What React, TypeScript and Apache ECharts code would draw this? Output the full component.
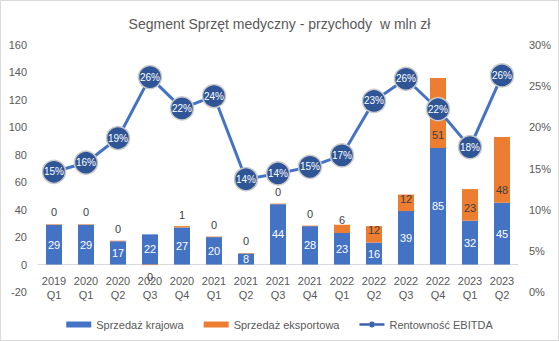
import React, { useEffect, useRef } from "react";
import * as echarts from "echarts";

const categories = [
  "2019\nQ1", "2020\nQ1", "2020\nQ2", "2020\nQ3", "2020\nQ4",
  "2021\nQ1", "2021\nQ2", "2021\nQ3", "2021\nQ4", "2022\nQ1",
  "2022\nQ2", "2022\nQ3", "2022\nQ4", "2023\nQ1", "2023\nQ2",
];
const domesticSales = [29, 29, 17, 22, 27, 20, 8, 44, 28, 23, 16, 39, 85, 32, 45];
const exportSales = [0.4, 0.4, 0.4, -0.4, 1, 0.4, 0.4, 0.4, 0.4, 6, 12, 12, 51, 23, 48];
const ebitdaMargin = [0.146, 0.157, 0.187, 0.261, 0.223, 0.238, 0.137, 0.144, 0.152, 0.166, 0.232, 0.259, 0.222, 0.176, 0.263];
const leftMin = -20;
const leftMax = 160;

const FONT = "'Liberation Sans', Arial, sans-serif";
const GREY = "#595959";
const GRID_TOP = 45;
const GRID_BOTTOM = 49;
const HEIGHT = 341;

const LINE_ICON =
  "path://M0,1.8 L9.6,1.8 L9.6,4.2 L0,4.2 Z M15.4,3 A2.9,2.9 0 1 1 9.6,3 A2.9,2.9 0 1 1 15.4,3 Z M15.4,1.8 L25,1.8 L25,4.2 L15.4,4.2 Z";

export default function App() {
  const ref = useRef<HTMLDivElement>(null);
  useEffect(() => {
    document.body.style.margin = "0";
    const chart = echarts.init(ref.current!, null, { renderer: "svg" });
    const plotH = HEIGHT - GRID_TOP - GRID_BOTTOM;
    const zeroOffset = -(plotH * (0 - leftMin)) / (leftMax - leftMin);
    chart.setOption({
      animation: false,
      backgroundColor: "#ffffff",
      textStyle: { fontFamily: FONT },
      title: {
        text: "Segment Sprzęt medyczny - przychody  w mln zł",
        left: "center",
        top: 12,
        textStyle: { fontSize: 14, fontWeight: "normal", color: GREY, fontFamily: FONT },
      },
      graphic: [
        {
          type: "rect",
          shape: { x: 0.5, y: 0.5, width: 558, height: 340 },
          style: { fill: "none", stroke: "#D9D9D9", lineWidth: 1 },
          silent: true,
        },
      ],
      legend: {
        left: "center",
        top: 314,
        itemWidth: 25,
        itemHeight: 6,
        itemGap: 20,
        textStyle: { fontSize: 11, color: GREY, fontFamily: FONT },
        data: [
          { name: "Sprzedaż krajowa", icon: "rect" },
          { name: "Sprzedaż eksportowa", icon: "rect" },
          { name: "Rentowność EBITDA", icon: LINE_ICON, itemStyle: { color: "#3A64B0", borderWidth: 0 } },
        ],
      },
      grid: { left: 38, right: 41, top: GRID_TOP, bottom: GRID_BOTTOM },
      xAxis: {
        type: "category",
        data: categories,
        offset: zeroOffset,
        axisLine: { onZero: false, lineStyle: { color: "#D9D9D9", width: 1 } },
        axisTick: { show: false },
        axisLabel: { interval: 0, color: GREY, fontSize: 11, lineHeight: 14, margin: 9 },
      },
      yAxis: [
        {
          type: "value",
          min: leftMin,
          max: leftMax,
          interval: 20,
          axisLine: { show: false },
          axisTick: { show: false },
          splitLine: { show: false },
          axisLabel: { color: GREY, fontSize: 11, margin: 11 },
        },
        {
          type: "value",
          min: 0,
          max: 0.3,
          interval: 0.05,
          axisLine: { show: false },
          axisTick: { show: false },
          splitLine: { show: false },
          axisLabel: {
            color: GREY,
            fontSize: 11,
            margin: 11,
            formatter: (v: number) => `${Math.round(v * 100)}%`,
          },
        },
      ],
      series: [
        {
          name: "Sprzedaż krajowa",
          type: "bar",
          stack: "sales",
          barWidth: "50%",
          data: domesticSales,
          itemStyle: { color: "#4472C4" },
          label: {
            show: true,
            position: "inside",
            color: "#ffffff",
            fontSize: 11,
            formatter: (p: any) => `${Math.round(p.value)}`,
          },
        },
        {
          name: "Sprzedaż eksportowa",
          type: "bar",
          stack: "sales",
          barWidth: "50%",
          data: exportSales.map((v) =>
            v < 0 ? { value: v, label: { position: "bottom", distance: 6 } } : v
          ),
          itemStyle: { color: "#ED7D31" },
          label: {
            show: true,
            position: "insideBottom",
            distance: 7,
            color: "#404040",
            fontSize: 11,
            formatter: (p: any) => `${Math.round(p.value) || 0}`,
          },
        },
        {
          name: "Rentowność EBITDA",
          type: "line",
          yAxisIndex: 1,
          data: ebitdaMargin,
          z: 5,
          symbol: "circle",
          symbolSize: 23,
          lineStyle: { color: "#4472C4", width: 3 },
          itemStyle: { color: "#2F5597", borderColor: "#C9C9C9", borderWidth: 1.5 },
          label: {
            show: true,
            position: "inside",
            color: "#ffffff",
            fontSize: 10,
            formatter: (p: any) => `${Math.round(p.value * 100)}%`,
          },
        },
      ],
    });
    return () => chart.dispose();
  }, []);
  return <div ref={ref} style={{ width: 559, height: 341 }} />;
}
